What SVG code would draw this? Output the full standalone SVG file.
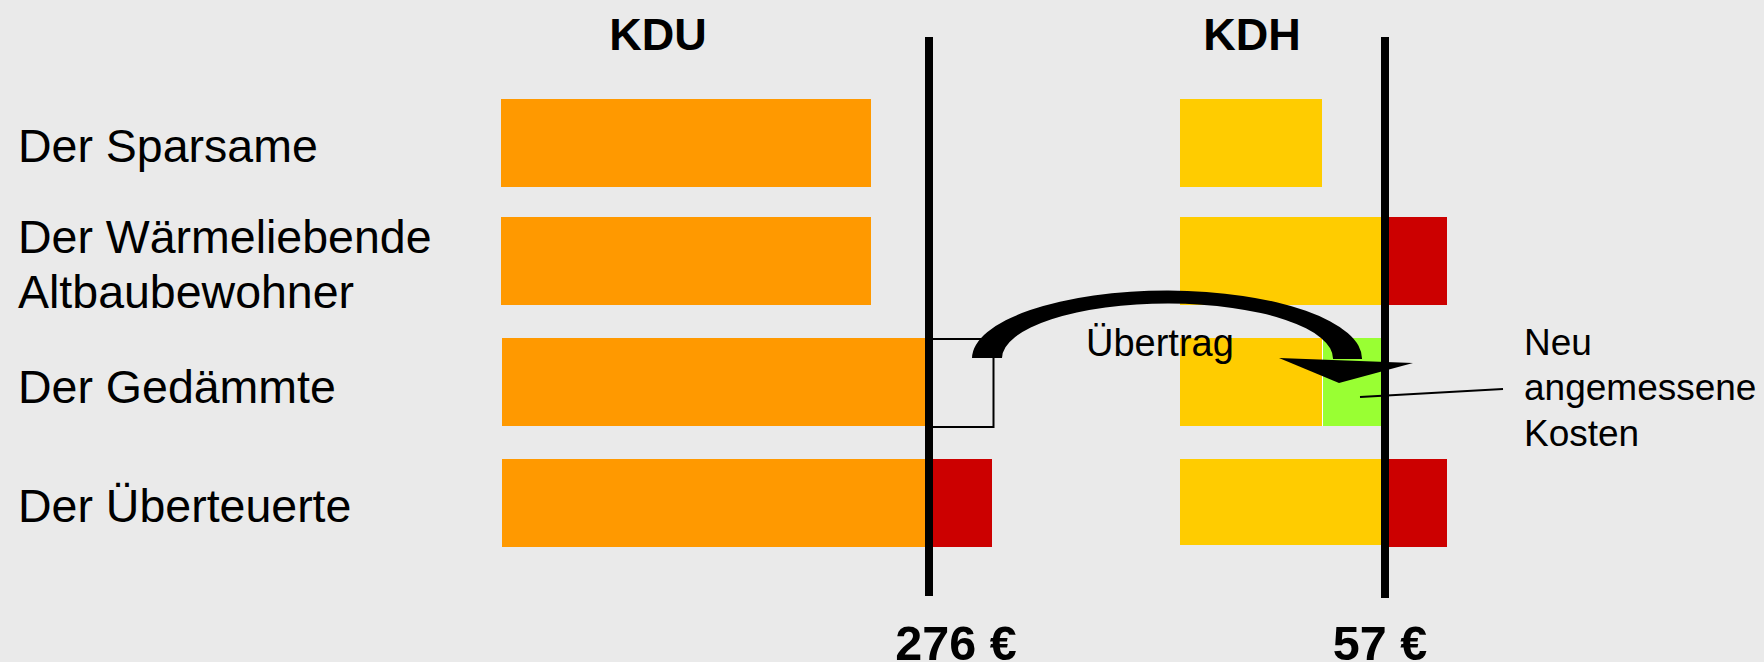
<svg xmlns="http://www.w3.org/2000/svg" width="1764" height="662" viewBox="0 0 1764 662">
  <style>
    .lbl { font-family: "Liberation Sans", Arial, sans-serif; font-size: 46.5px; fill: #000; }
    .hdr { font-family: "Liberation Sans", Arial, sans-serif; font-size: 45px; font-weight: bold; fill: #000; text-anchor: middle; }
    .sum { font-family: "Liberation Sans", Arial, sans-serif; font-size: 48.5px; font-weight: bold; fill: #000; text-anchor: middle; }
    .note { font-family: "Liberation Sans", Arial, sans-serif; font-size: 37px; fill: #000; }
    .kdu { fill: #FF9900; }
    .kdh { fill: #FFCC00; }
    .over { fill: #CC0000; }
    .ok { fill: #99FF33; }
    .limit { fill: #000; }
  </style>
  <rect width="1764" height="662" fill="#EAEAEA"/>

  <!-- column headers -->
  <g id="headers">
    <text class="hdr" x="658" y="50">KDU</text>
    <text class="hdr" x="1252" y="50">KDH</text>
  </g>

  <!-- row labels -->
  <g id="labels">
    <text class="lbl" x="18" y="162">Der Sparsame</text>
    <text class="lbl" x="18" y="253">Der Wärmeliebende</text>
    <text class="lbl" x="18" y="308">Altbaubewohner</text>
    <text class="lbl" x="18" y="403">Der Gedämmte</text>
    <text class="lbl" x="18" y="522">Der Überteuerte</text>
  </g>

  <!-- row 1 -->
  <g id="row-sparsam">
    <rect class="kdu" x="501" y="99" width="370" height="88"/>
    <rect class="kdh" x="1180" y="99" width="142" height="88"/>
  </g>

  <!-- row 2 -->
  <g id="row-waermeliebend">
    <rect class="kdu" x="501" y="217" width="370" height="88"/>
    <rect class="kdh" x="1180" y="217" width="205" height="88"/>
    <rect class="over" x="1385" y="217" width="62" height="88"/>
  </g>

  <!-- row 3 -->
  <g id="row-gedaemmt">
    <rect class="kdu" x="502" y="338" width="427" height="88"/>
    <rect class="kdh" x="1180" y="338" width="142" height="88"/>
    <rect class="ok" x="1322" y="338" width="63" height="88"/>
    <line x1="1322.5" y1="338" x2="1322.5" y2="426" stroke="#FFFFFF" stroke-width="1"/>
    <rect x="929" y="339" width="64.5" height="88" fill="none" stroke="#000" stroke-width="2"/>
  </g>

  <!-- row 4 -->
  <g id="row-ueberteuert">
    <rect class="kdu" x="502" y="459" width="427" height="88"/>
    <rect class="over" x="929" y="459" width="63" height="88"/>
    <rect class="kdh" x="1180" y="459" width="205" height="86"/>
    <rect class="over" x="1385" y="459" width="62" height="88"/>
  </g>

  <!-- upper limits -->
  <g id="limits">
    <rect class="limit" x="925" y="37" width="8" height="559"/>
    <rect class="limit" x="1381" y="37" width="8" height="561"/>
    <text class="sum" x="956" y="660">276 €</text>
    <text class="sum" x="1380" y="660">57 €</text>
  </g>

  <!-- transfer arrow and annotations -->
  <g id="connectors">
    <path d="M 972 358 A 195 68 0 0 1 1362 359 L 1333 359 A 165.5 55 0 0 0 1002 358 Z" fill="#000"/>
    <polygon points="1279,358 1413,363 1339,383" fill="#000"/>
    <line x1="1360" y1="397" x2="1503" y2="389" stroke="#000" stroke-width="2"/>
  </g>

  <g id="transfer-label">
    <text class="note" x="1086" y="356" style="font-size:38px">Übertrag</text>
  </g>

  <g id="note-new">
    <text class="note" x="1524" y="355">Neu</text>
    <text class="note" x="1524" y="400">angemessene</text>
    <text class="note" x="1524" y="446">Kosten</text>
  </g>
</svg>
